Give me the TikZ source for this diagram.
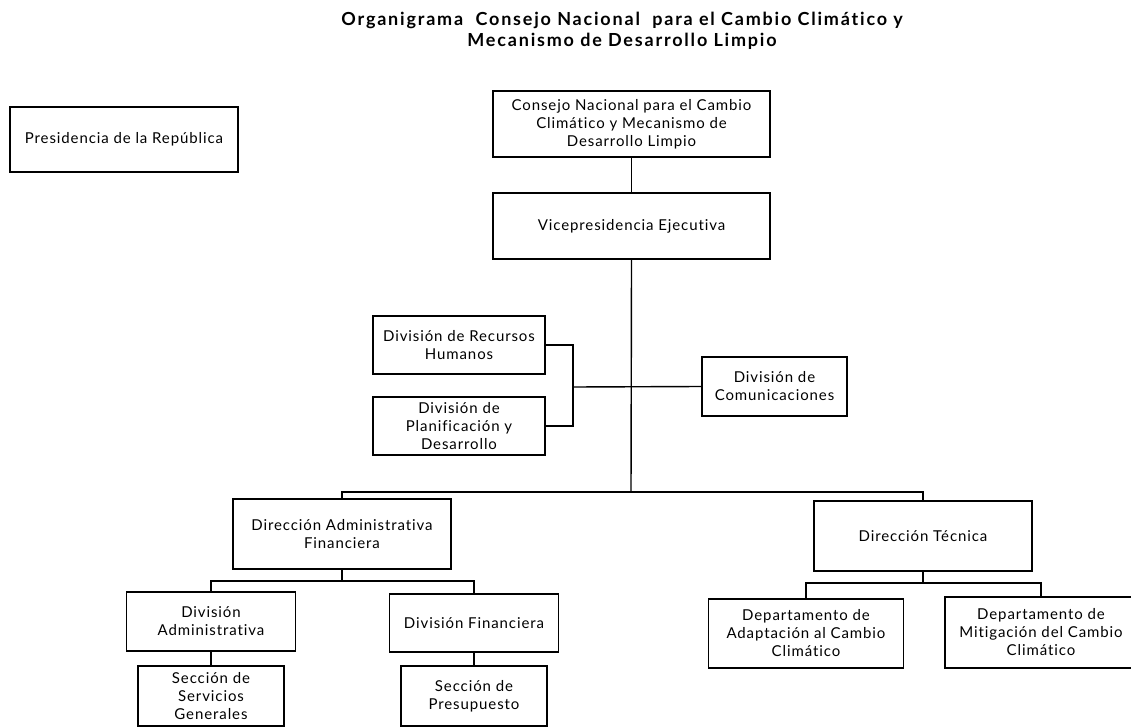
\documentclass[tikz,border=0pt]{standalone}
\usepackage{fontspec}
\setmainfont{Lato}
\newfontfamily\boxfont[LetterSpace=6,Ligatures=NoCommon]{Lato}
\newfontfamily\titlefont[LetterSpace=10,Ligatures=NoCommon]{Lato}
\begin{document}
\begin{tikzpicture}[x=1pt,y=-1pt,
  box/.style={draw, line width=1.5pt, align=center, inner sep=1pt,
    font=\boxfont\fontsize{15}{18}\selectfont},
  conn/.style={line width=1.4pt},
  titletext/.style={align=center, font=\titlefont\fontsize{18}{21}\selectfont\bfseries}]
\useasboundingbox (0,0) rectangle (1131,727);
\fill[white] (0,0) rectangle (1131,727);

\node[titletext] (title) at (622,31) {Organigrama\ \ Consejo Nacional\ \ para el Cambio Climático y\\Mecanismo de Desarrollo Limpio};

\node[box, minimum width=228pt, minimum height=65pt] (pres) at (124,139.5) {Presidencia de la República};
\node[box, minimum width=277pt, minimum height=66pt] (cons) at (631.5,124) {Consejo Nacional para el Cambio\\Climático y Mecanismo de\\Desarrollo Limpio};
\node[box, minimum width=277pt, minimum height=66pt] (vice) at (631.5,226) {Vicepresidencia Ejecutiva};
\node[box, minimum width=172pt, minimum height=58pt] (rrhh) at (459,345) {División de Recursos\\Humanos};
\node[box, minimum width=172pt, minimum height=58pt] (plan) at (459,426) {División de\\Planificación y\\Desarrollo};
\node[box, minimum width=145pt, minimum height=59pt] (com) at (774.5,386.5) {División de\\Comunicaciones};
\node[box, minimum width=218pt, minimum height=70pt] (daf) at (342,534) {Dirección Administrativa\\Financiera};
\node[box, minimum width=218pt, minimum height=70pt] (dt) at (923,536) {Dirección Técnica};
\node[box, minimum width=169pt, minimum height=59pt] (da) at (211,621.5) {División\\Administrativa};
\node[box, minimum width=169pt, minimum height=58pt] (df) at (474,623) {División Financiera};
\node[box, minimum width=146pt, minimum height=60pt] (ssg) at (211,696) {Sección de\\Servicios\\Generales};
\node[box, minimum width=146pt, minimum height=60pt] (sp) at (474,696) {Sección de\\Presupuesto};
\node[box, minimum width=195pt, minimum height=69pt] (dac) at (806,633.5) {Departamento de\\Adaptación al Cambio\\Climático};
\node[box, minimum width=192pt, minimum height=71pt] (dmc) at (1041,632.5) {Departamento de\\Mitigación del Cambio\\Climático};

% junction coordinates
\coordinate (mainbus) at (631,492);
\coordinate (bracket) at (573,387);
\coordinate (dafbus) at (342,581);
\coordinate (dtbus) at (923,583);

\draw[conn] (cons.south) -- (vice.north);
\draw[conn] (vice.south) -- (mainbus);
\draw[conn] (rrhh.east) -| (bracket);
\draw[conn] (plan.east) -| (bracket);
\draw[conn] (bracket) -- (com.west);
\draw[conn] (daf.north) |- (mainbus);
\draw[conn] (dt.north) |- (mainbus);
\draw[conn] (daf.south) -- (dafbus);
\draw[conn] (da.north) |- (dafbus);
\draw[conn] (df.north) |- (dafbus);
\draw[conn] (dt.south) -- (dtbus);
\draw[conn] (dac.north) |- (dtbus);
\draw[conn] (dmc.north) |- (dtbus);
\draw[conn] (da.south) -- (ssg.north);
\draw[conn] (df.south) -- (sp.north);
\end{tikzpicture}
\end{document}
